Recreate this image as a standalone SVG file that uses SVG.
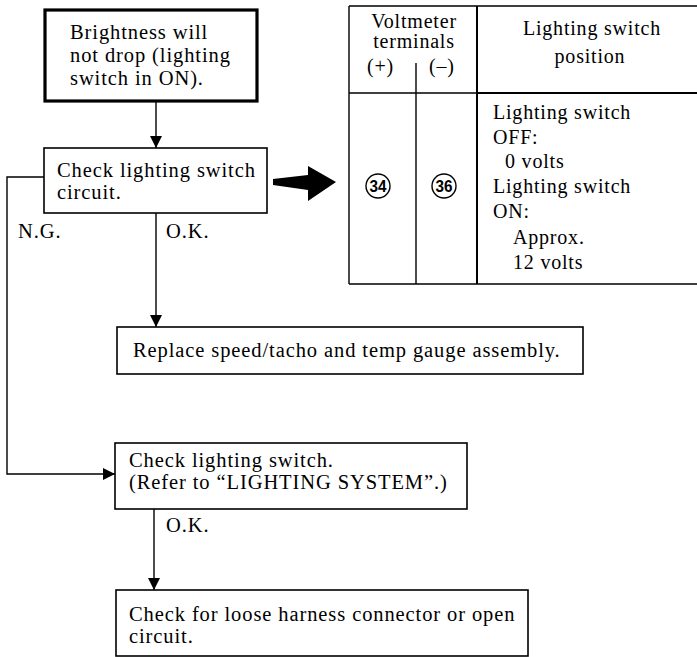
<svg xmlns="http://www.w3.org/2000/svg" width="697" height="657" viewBox="0 0 697 657">
<defs>
<style>
text{font-family:"Liberation Serif","Times New Roman",serif;font-size:20.5px;letter-spacing:0.9px;fill:#000}
.t{font-size:20px;letter-spacing:0.8px}
.c{text-anchor:middle}
.box{fill:#fff;stroke:#000;stroke-width:1.6}
.thick{fill:#fff;stroke:#000;stroke-width:3.2}
.ln{fill:none;stroke:#000;stroke-width:1.4}
.tl{fill:none;stroke:#000;stroke-width:1.4}
.num{font-family:"Liberation Sans Narrow","Liberation Sans",sans-serif;font-weight:bold;font-size:17px;letter-spacing:0;text-anchor:middle}
</style>
<marker id="ah" markerUnits="userSpaceOnUse" markerWidth="13" markerHeight="13" refX="12" refY="6" orient="auto">
<path d="M0,0 L12,6 L0,12 z" fill="#000"/>
</marker>
</defs>
<rect width="697" height="657" fill="#fff"/>

<g id="connectors">
<path class="ln" d="M156,101 V148" marker-end="url(#ah)"/>
<path class="ln" d="M156,213 V327" marker-end="url(#ah)"/>
<path class="ln" d="M44,177 H7 V474 H115" marker-end="url(#ah)"/>
<path class="ln" d="M154,509 V590" marker-end="url(#ah)"/>
<polygon points="273,179 308,175 308,166 336,182 308,201 308,190 273,185" fill="#000"/>
</g>

<g id="start">
<rect class="thick" x="45" y="10" width="212" height="91"/>
<text x="70" y="39">Brightness will</text>
<text x="70" y="62">not drop (lighting</text>
<text x="70" y="85">switch in ON).</text>
</g>

<g id="check-circuit">
<rect class="box" x="44" y="148" width="223" height="65"/>
<text x="57" y="177">Check lighting switch</text>
<text x="57" y="199">circuit.</text>
</g>

<g id="labels">
<text x="18" y="238">N.G.</text>
<text x="166" y="238">O.K.</text>
<text x="166" y="532">O.K.</text>
</g>

<g id="replace">
<rect class="box" x="117" y="327" width="466" height="47"/>
<text x="133" y="357">Replace speed/tacho and temp gauge assembly.</text>
</g>

<g id="check-switch">
<rect class="box" x="115" y="443" width="352" height="66"/>
<text x="129" y="467">Check lighting switch.</text>
<text x="129" y="489">(Refer to “LIGHTING SYSTEM”.)</text>
</g>

<g id="check-harness">
<rect class="box" x="116" y="590" width="412" height="66"/>
<text x="129" y="621">Check for loose harness connector or open</text>
<text x="129" y="643">circuit.</text>
</g>

<g id="table">
<path class="tl" d="M349,6 H697 M349,6 V284 M349,93 H697 M416,63 V284 M349,284 H697"/>
<path d="M477,6 V284 M477,93 H697" fill="none" stroke="#000" stroke-width="2"/>
<text class="t c" x="414" y="28">Voltmeter</text>
<text class="t c" x="414" y="48">terminals</text>
<text class="t" x="367" y="73">(+)</text>
<text class="t" x="429" y="73">(–)</text>
<text class="t c" x="592" y="35">Lighting switch</text>
<text class="t c" x="590" y="63">position</text>
<circle cx="378" cy="186" r="12" fill="none" stroke="#000" stroke-width="1.4"/>
<text class="num" x="378" y="192" textLength="17" lengthAdjust="spacingAndGlyphs">34</text>
<circle cx="444" cy="186" r="12" fill="none" stroke="#000" stroke-width="1.4"/>
<text class="num" x="444" y="192" textLength="17" lengthAdjust="spacingAndGlyphs">36</text>
<text class="t" x="493" y="119">Lighting switch</text>
<text class="t" x="493" y="144">OFF:</text>
<text class="t" x="505" y="168">0 volts</text>
<text class="t" x="493" y="193">Lighting switch</text>
<text class="t" x="493" y="218">ON:</text>
<text class="t" x="513" y="244">Approx.</text>
<text class="t" x="513" y="269">12 volts</text>
</g>
</svg>
